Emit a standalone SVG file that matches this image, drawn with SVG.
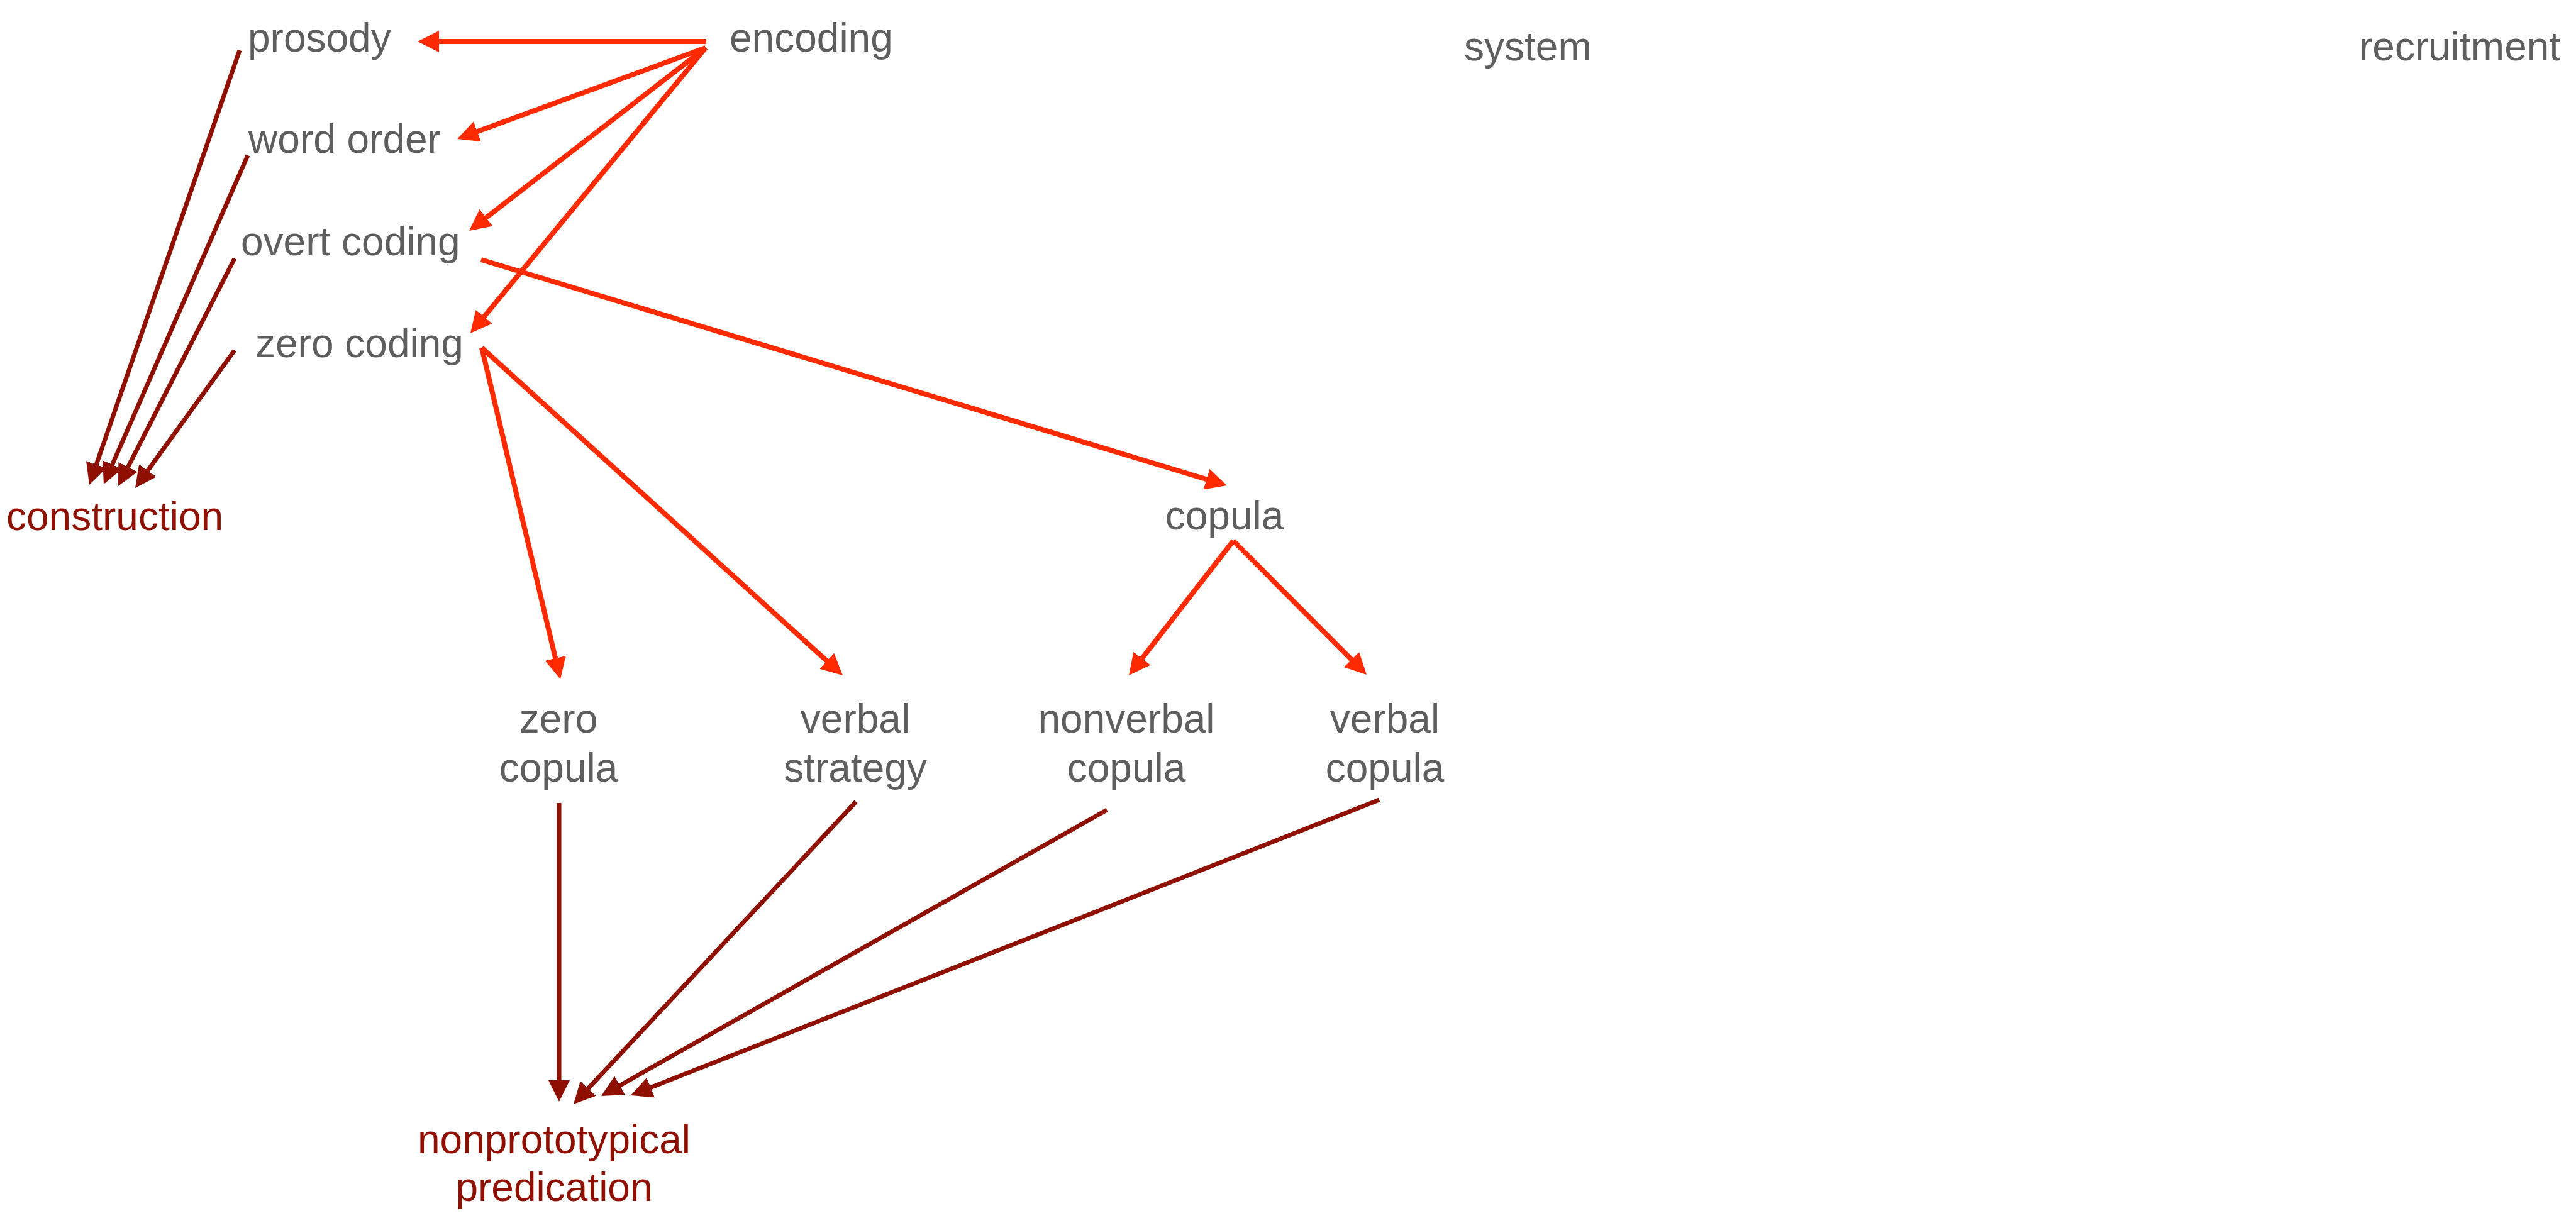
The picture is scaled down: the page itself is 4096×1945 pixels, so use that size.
<svg xmlns="http://www.w3.org/2000/svg" width="4096" height="1945" viewBox="0 0 4096 1945">
<style>
text{font-family:"Liberation Sans",Arial,Helvetica,sans-serif;font-size:64px;fill:#5e5e5e}
.dk{fill:#8f1000}
.m{text-anchor:middle}
.br{stroke:#ff2a00;stroke-width:8;fill:none;marker-end:url(#ab)}
.dr{stroke:#8f1000;stroke-width:7;fill:none;marker-end:url(#ad)}
</style>
<defs>
<marker id="ab" markerUnits="userSpaceOnUse" markerWidth="40" markerHeight="40" refX="8" refY="17" orient="auto" viewBox="0 0 40 40"><path d="M0,0 L34,17 L0,34 z" fill="#ff2a00"/></marker>
<marker id="ad" markerUnits="userSpaceOnUse" markerWidth="40" markerHeight="40" refX="8" refY="17" orient="auto" viewBox="0 0 40 40"><path d="M0,0 L34,17 L0,34 z" fill="#8f1000"/></marker>
</defs>
<rect width="4096" height="1945" fill="#fff"/>
<g id="connectors">
<line class="br" x1="1123" y1="66" x2="690" y2="66"/>
<line class="br" x1="1122" y1="76" x2="751.4" y2="212"/>
<line class="br" x1="1122" y1="76" x2="766.6" y2="351.1"/>
<line class="br" x1="1122" y1="76" x2="764.5" y2="509.9"/>
<line class="br" x1="765" y1="413" x2="1926.1" y2="764.5"/>
<line class="br" x1="766" y1="553" x2="885" y2="1054.7"/>
<line class="br" x1="766" y1="553" x2="1320.7" y2="1056.5"/>
<line class="br" x1="1961" y1="860" x2="1810.9" y2="1053.5"/>
<line class="br" x1="1961" y1="860" x2="2154.7" y2="1054.6"/>
<line class="dr" x1="381" y1="80" x2="150.5" y2="746.4"/>
<line class="dr" x1="394" y1="247" x2="175.4" y2="746.2"/>
<line class="dr" x1="373" y1="411" x2="199.8" y2="749.8"/>
<line class="dr" x1="373" y1="557" x2="230.2" y2="754.9"/>
<line class="dr" x1="889" y1="1277" x2="889" y2="1726"/>
<line class="dr" x1="1361" y1="1275" x2="929.7" y2="1737"/>
<line class="dr" x1="1760" y1="1288" x2="978.6" y2="1730.2"/>
<line class="dr" x1="2193" y1="1272" x2="1027.2" y2="1732.5"/>
</g>
<g id="prosody"><text x="394" y="82">prosody</text></g>
<g id="encoding"><text x="1160" y="82">encoding</text></g>
<g id="word_order"><text x="395" y="243">word order</text></g>
<g id="overt_coding"><text x="383" y="406">overt coding</text></g>
<g id="zero_coding"><text x="406" y="568">zero coding</text></g>
<g id="construction"><text class="dk" x="10" y="843">construction</text></g>
<g id="system"><text x="2328" y="96">system</text></g>
<g id="recruitment"><text x="3751" y="96">recruitment</text></g>
<g id="copula"><text class="m" x="1947" y="842">copula</text></g>
<g id="zero_copula"><text class="m" x="888" y="1165">zero</text><text class="m" x="888" y="1243">copula</text></g>
<g id="verbal_strategy"><text class="m" x="1360" y="1165">verbal</text><text class="m" x="1360" y="1243">strategy</text></g>
<g id="nonverbal_copula"><text class="m" x="1791" y="1165">nonverbal</text><text class="m" x="1791" y="1243">copula</text></g>
<g id="verbal_copula"><text class="m" x="2202" y="1165">verbal</text><text class="m" x="2202" y="1243">copula</text></g>
<g id="nonprototypical_predication"><text class="m dk" x="881" y="1834">nonprototypical</text><text class="m dk" x="881" y="1910">predication</text></g>
</svg>
